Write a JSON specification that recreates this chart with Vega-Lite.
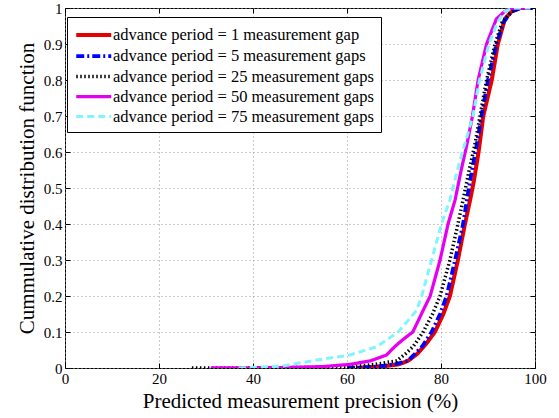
{
  "$schema": "https://vega.github.io/schema/vega-lite/v6.json",
  "autosize": "none",
  "width": 470,
  "height": 360,
  "padding": {"left": 65, "top": 8, "right": 24, "bottom": 50},
  "background": "white",
  "config": {
    "font": "Liberation Serif, Times New Roman, serif",
    "view": {"stroke": "black", "strokeWidth": 1},
    "axis": {"labelFont": "Liberation Serif, Times New Roman, serif", "titleFont": "Liberation Serif, Times New Roman, serif"},
    "legend": {"labelFont": "Liberation Serif, Times New Roman, serif"}
  },
  "data": {
    "values": [
      {"s": "advance period = 1 measurement gap", "x": 62, "y": 0},
      {"s": "advance period = 1 measurement gap", "x": 68, "y": 0.005},
      {"s": "advance period = 1 measurement gap", "x": 71, "y": 0.01},
      {"s": "advance period = 1 measurement gap", "x": 73, "y": 0.02},
      {"s": "advance period = 1 measurement gap", "x": 75, "y": 0.04},
      {"s": "advance period = 1 measurement gap", "x": 77, "y": 0.07},
      {"s": "advance period = 1 measurement gap", "x": 78.7, "y": 0.1},
      {"s": "advance period = 1 measurement gap", "x": 80.5, "y": 0.15},
      {"s": "advance period = 1 measurement gap", "x": 81.9, "y": 0.2},
      {"s": "advance period = 1 measurement gap", "x": 83.6, "y": 0.3},
      {"s": "advance period = 1 measurement gap", "x": 85.1, "y": 0.4},
      {"s": "advance period = 1 measurement gap", "x": 86.2, "y": 0.467},
      {"s": "advance period = 1 measurement gap", "x": 87, "y": 0.52},
      {"s": "advance period = 1 measurement gap", "x": 88, "y": 0.6},
      {"s": "advance period = 1 measurement gap", "x": 89, "y": 0.7},
      {"s": "advance period = 1 measurement gap", "x": 90.8, "y": 0.8},
      {"s": "advance period = 1 measurement gap", "x": 92.1, "y": 0.9},
      {"s": "advance period = 1 measurement gap", "x": 93.6, "y": 0.97},
      {"s": "advance period = 1 measurement gap", "x": 95, "y": 0.99},
      {"s": "advance period = 1 measurement gap", "x": 96.8, "y": 1},
      {"s": "advance period = 1 measurement gap", "x": 99.3, "y": 1},

      {"s": "advance period = 5 measurement gaps", "x": 60, "y": 0},
      {"s": "advance period = 5 measurement gaps", "x": 66, "y": 0.003},
      {"s": "advance period = 5 measurement gaps", "x": 70, "y": 0.01},
      {"s": "advance period = 5 measurement gaps", "x": 73, "y": 0.02},
      {"s": "advance period = 5 measurement gaps", "x": 76, "y": 0.06},
      {"s": "advance period = 5 measurement gaps", "x": 78, "y": 0.1},
      {"s": "advance period = 5 measurement gaps", "x": 79.8, "y": 0.15},
      {"s": "advance period = 5 measurement gaps", "x": 81.2, "y": 0.2},
      {"s": "advance period = 5 measurement gaps", "x": 83, "y": 0.3},
      {"s": "advance period = 5 measurement gaps", "x": 84.7, "y": 0.4},
      {"s": "advance period = 5 measurement gaps", "x": 85.5, "y": 0.467},
      {"s": "advance period = 5 measurement gaps", "x": 86.6, "y": 0.55},
      {"s": "advance period = 5 measurement gaps", "x": 87.6, "y": 0.62},
      {"s": "advance period = 5 measurement gaps", "x": 88.6, "y": 0.7},
      {"s": "advance period = 5 measurement gaps", "x": 90, "y": 0.8},
      {"s": "advance period = 5 measurement gaps", "x": 91.8, "y": 0.9},
      {"s": "advance period = 5 measurement gaps", "x": 93.3, "y": 0.96},
      {"s": "advance period = 5 measurement gaps", "x": 95, "y": 0.99},
      {"s": "advance period = 5 measurement gaps", "x": 97, "y": 1},
      {"s": "advance period = 5 measurement gaps", "x": 99.5, "y": 1},

      {"s": "advance period = 25 measurement gaps", "x": 27, "y": 0},
      {"s": "advance period = 25 measurement gaps", "x": 40, "y": 0},
      {"s": "advance period = 25 measurement gaps", "x": 55, "y": 0.002},
      {"s": "advance period = 25 measurement gaps", "x": 62, "y": 0.005},
      {"s": "advance period = 25 measurement gaps", "x": 66, "y": 0.01},
      {"s": "advance period = 25 measurement gaps", "x": 70.6, "y": 0.02},
      {"s": "advance period = 25 measurement gaps", "x": 72.5, "y": 0.04},
      {"s": "advance period = 25 measurement gaps", "x": 74.1, "y": 0.06},
      {"s": "advance period = 25 measurement gaps", "x": 76.2, "y": 0.1},
      {"s": "advance period = 25 measurement gaps", "x": 78.2, "y": 0.15},
      {"s": "advance period = 25 measurement gaps", "x": 79.8, "y": 0.2},
      {"s": "advance period = 25 measurement gaps", "x": 81.9, "y": 0.3},
      {"s": "advance period = 25 measurement gaps", "x": 83.6, "y": 0.4},
      {"s": "advance period = 25 measurement gaps", "x": 84.7, "y": 0.467},
      {"s": "advance period = 25 measurement gaps", "x": 86, "y": 0.55},
      {"s": "advance period = 25 measurement gaps", "x": 87.2, "y": 0.62},
      {"s": "advance period = 25 measurement gaps", "x": 88.3, "y": 0.7},
      {"s": "advance period = 25 measurement gaps", "x": 89.7, "y": 0.8},
      {"s": "advance period = 25 measurement gaps", "x": 91.5, "y": 0.9},
      {"s": "advance period = 25 measurement gaps", "x": 93, "y": 0.96},
      {"s": "advance period = 25 measurement gaps", "x": 95, "y": 0.99},
      {"s": "advance period = 25 measurement gaps", "x": 96.5, "y": 1},
      {"s": "advance period = 25 measurement gaps", "x": 99.5, "y": 1},

      {"s": "advance period = 50 measurement gaps", "x": 31, "y": 0},
      {"s": "advance period = 50 measurement gaps", "x": 45, "y": 0.001},
      {"s": "advance period = 50 measurement gaps", "x": 55, "y": 0.004},
      {"s": "advance period = 50 measurement gaps", "x": 60.6, "y": 0.01},
      {"s": "advance period = 50 measurement gaps", "x": 65, "y": 0.02},
      {"s": "advance period = 50 measurement gaps", "x": 68.4, "y": 0.036},
      {"s": "advance period = 50 measurement gaps", "x": 70.2, "y": 0.06},
      {"s": "advance period = 50 measurement gaps", "x": 72, "y": 0.08},
      {"s": "advance period = 50 measurement gaps", "x": 74, "y": 0.1},
      {"s": "advance period = 50 measurement gaps", "x": 76.2, "y": 0.16},
      {"s": "advance period = 50 measurement gaps", "x": 77.7, "y": 0.2},
      {"s": "advance period = 50 measurement gaps", "x": 79.8, "y": 0.3},
      {"s": "advance period = 50 measurement gaps", "x": 81.5, "y": 0.4},
      {"s": "advance period = 50 measurement gaps", "x": 83, "y": 0.467},
      {"s": "advance period = 50 measurement gaps", "x": 84.3, "y": 0.55},
      {"s": "advance period = 50 measurement gaps", "x": 85.5, "y": 0.62},
      {"s": "advance period = 50 measurement gaps", "x": 86.7, "y": 0.7},
      {"s": "advance period = 50 measurement gaps", "x": 87.9, "y": 0.8},
      {"s": "advance period = 50 measurement gaps", "x": 89.7, "y": 0.9},
      {"s": "advance period = 50 measurement gaps", "x": 91.8, "y": 0.97},
      {"s": "advance period = 50 measurement gaps", "x": 93.5, "y": 0.99},
      {"s": "advance period = 50 measurement gaps", "x": 95, "y": 1},
      {"s": "advance period = 50 measurement gaps", "x": 99, "y": 1},

      {"s": "advance period = 75 measurement gaps", "x": 37, "y": 0},
      {"s": "advance period = 75 measurement gaps", "x": 46, "y": 0.005},
      {"s": "advance period = 75 measurement gaps", "x": 53.5, "y": 0.022},
      {"s": "advance period = 75 measurement gaps", "x": 60.6, "y": 0.036},
      {"s": "advance period = 75 measurement gaps", "x": 66.3, "y": 0.059},
      {"s": "advance period = 75 measurement gaps", "x": 70.9, "y": 0.1},
      {"s": "advance period = 75 measurement gaps", "x": 74.8, "y": 0.16},
      {"s": "advance period = 75 measurement gaps", "x": 75.9, "y": 0.2},
      {"s": "advance period = 75 measurement gaps", "x": 78, "y": 0.3},
      {"s": "advance period = 75 measurement gaps", "x": 80.1, "y": 0.4},
      {"s": "advance period = 75 measurement gaps", "x": 81.9, "y": 0.467},
      {"s": "advance period = 75 measurement gaps", "x": 83.5, "y": 0.55},
      {"s": "advance period = 75 measurement gaps", "x": 85, "y": 0.62},
      {"s": "advance period = 75 measurement gaps", "x": 86.8, "y": 0.7},
      {"s": "advance period = 75 measurement gaps", "x": 88.2, "y": 0.8},
      {"s": "advance period = 75 measurement gaps", "x": 90.2, "y": 0.9},
      {"s": "advance period = 75 measurement gaps", "x": 92, "y": 0.96},
      {"s": "advance period = 75 measurement gaps", "x": 93.5, "y": 0.99},
      {"s": "advance period = 75 measurement gaps", "x": 95.3, "y": 1},
      {"s": "advance period = 75 measurement gaps", "x": 99, "y": 1}
    ]
  },
  "resolve": {"axis": {"x": "independent", "y": "independent"}},
  "layer": [
    {
      "mark": {"type": "line", "clip": true},
      "encoding": {
        "x": {
          "field": "x", "type": "quantitative",
          "scale": {"domain": [0, 100], "nice": false, "zero": false},
          "axis": {
            "title": "Predicted measurement precision (%)",
            "values": [0, 20, 40, 60, 80, 100],
            "grid": true, "gridDash": [1, 3], "gridColor": "#999999", "gridOpacity": 1,
            "domain": false, "tickSize": -5, "tickColor": "black",
            "labelFontSize": 15, "labelColor": "black",
            "labelPadding": 8, "labelFlush": false,
            "titleFontSize": 21, "titleFontWeight": "normal",
            "titleColor": "black", "titlePadding": 4
          }
        },
        "y": {
          "field": "y", "type": "quantitative",
          "scale": {"domain": [0, 1], "nice": false},
          "axis": {
            "title": "Cummulative distribution function",
            "values": [0, 0.1, 0.2, 0.3, 0.4, 0.5, 0.6, 0.7, 0.8, 0.9, 1],
            "format": "~g",
            "grid": true, "gridDash": [1, 3], "gridColor": "#999999", "gridOpacity": 1,
            "domain": false, "tickSize": -5, "tickColor": "black",
            "labelFontSize": 15, "labelColor": "black",
            "labelPadding": 8, "labelFlush": false,
            "titleFontSize": 21, "titleFontWeight": "normal",
            "titleColor": "black", "titlePadding": 6
          }
        },
        "color": {
          "field": "s", "type": "nominal",
          "scale": {
            "domain": ["advance period = 1 measurement gap", "advance period = 5 measurement gaps", "advance period = 25 measurement gaps", "advance period = 50 measurement gaps", "advance period = 75 measurement gaps"],
            "range": ["#e60000", "#0000ff", "#000000", "#e600f0", "#80f4ff"]
          },
          "legend": {
            "title": null, "orient": "none", "legendX": 2, "legendY": 9,
            "fillColor": "white", "strokeColor": "black", "padding": 7,
            "symbolType": "M-1,0H3", "symbolSize": 306,
            "labelFontSize": 16.5, "labelColor": "black",
            "labelLimit": 0,
            "rowPadding": 1, "labelOffset": 17, "cornerRadius": 0
          }
        },
        "strokeDash": {
          "field": "s", "type": "nominal",
          "scale": {
            "domain": ["advance period = 1 measurement gap", "advance period = 5 measurement gaps", "advance period = 25 measurement gaps", "advance period = 50 measurement gaps", "advance period = 75 measurement gaps"],
            "range": [[1, 0], [8, 3, 2, 3], [1.5, 2.5], [1, 0], [7, 4]]
          },
          "legend": null
        },
        "strokeWidth": {
          "field": "s", "type": "nominal",
          "scale": {
            "domain": ["advance period = 1 measurement gap", "advance period = 5 measurement gaps", "advance period = 25 measurement gaps", "advance period = 50 measurement gaps", "advance period = 75 measurement gaps"],
            "range": [4, 3, 1.8, 4, 3.5]
          },
          "legend": null
        },
        "order": {"field": "x", "type": "quantitative"}
      }
    },
    {
      "mark": {"type": "point", "opacity": 0},
      "encoding": {
        "x": {
          "field": "x", "type": "quantitative",
          "axis": {"orient": "top", "values": [0, 20, 40, 60, 80, 100], "labels": false, "title": null,
                   "grid": false, "domain": false, "tickSize": -5, "tickColor": "black"}
        },
        "y": {
          "field": "y", "type": "quantitative",
          "axis": {"orient": "right", "values": [0, 0.1, 0.2, 0.3, 0.4, 0.5, 0.6, 0.7, 0.8, 0.9, 1], "labels": false, "title": null,
                   "grid": false, "domain": false, "tickSize": -5, "tickColor": "black"}
        }
      }
    }
  ]
}
